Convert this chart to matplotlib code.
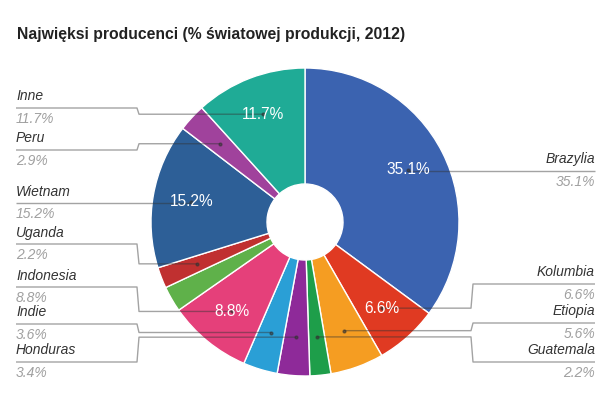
import numpy as np
import matplotlib.pyplot as plt

plt.rcParams['font.family'] = ['Liberation Sans', 'DejaVu Sans']

# data, clockwise from 12 o'clock
countries = ['Brazylia', 'Kolumbia', 'Etiopia', 'Guatemala', 'Honduras', 'Indie',
             'Indonesia', '', 'Uganda', 'Wietnam', 'Peru', 'Inne']
shares = [35.1, 6.6, 5.6, 2.2, 3.4, 3.6, 8.8, 2.7, 2.2, 15.2, 2.9, 11.7]
colors = ['#3b63b0', '#e03a22', '#f59d22', '#1e9e4a', '#8e2a99', '#2a9fd6',
          '#e5407a', '#5fb14a', '#c03030', '#2d5f97', '#a0429c', '#1fab96']
inside_min = 6.0  # slices above this get a % label inside

# legend layout (pixel rows of the leader lines, side of the chart)
label_rows = {'Brazylia': (171, 'R'), 'Kolumbia': (284, 'R'), 'Etiopia': (323, 'R'),
              'Guatemala': (362, 'R'), 'Inne': (108, 'L'), 'Peru': (150, 'L'),
              'Wietnam': (203, 'L'), 'Uganda': (244, 'L'), 'Indonesia': (287, 'L'),
              'Indie': (324, 'L'), 'Honduras': (362, 'L')}

W, H = 600, 395
cx, cy = 305, H - 222
R = 154
hole = 38

fig = plt.figure(figsize=(6, 3.95), dpi=100)
ax = fig.add_axes([0, 0, 1, 1])

ax.pie(shares, colors=colors, startangle=90, counterclock=False,
       center=(cx, cy), radius=R,
       wedgeprops=dict(width=R - hole, edgecolor='white', linewidth=1))
# pie resets the limits, so set them afterwards
ax.set_xlim(0, W)
ax.set_ylim(0, H)
ax.set_aspect('equal')
ax.axis('off')

total = sum(shares)
cum = np.cumsum([0] + shares[:-1])
mid_frac = (cum + np.array(shares) / 2) / total
theta = np.deg2rad(90 - mid_frac * 360)
r_lab = 0.75 * R
px = cx + r_lab * np.cos(theta)
py = cy + r_lab * np.sin(theta)

fig.text(17 / W, 1 - 35 / H, 'Najwięksi producenci (% światowej produkcji, 2012)',
         fontsize=11.3, fontweight='bold', color='#222222', va='center', ha='left')

line_kw = dict(color='#333333', alpha=0.45, lw=1, solid_capstyle='butt')
for i, name in enumerate(countries):
    pct = '{:.1f}%'.format(shares[i])
    if shares[i] >= inside_min:
        ax.text(px[i], py[i], pct, color='white', fontsize=11.2, ha='center', va='center',
                zorder=5)
    if name not in label_rows:
        continue
    row, side = label_rows[name]
    ly = H - row
    if side == 'L':
        xs = [16, 137, 139, px[i]]
        tx, ha = 16, 'left'
    else:
        xs = [595, 473, 471, px[i]]
        tx, ha = 595, 'right'
    ys = [ly, ly, py[i], py[i]]
    if abs(ly - py[i]) < 2:
        xs, ys = [xs[0], px[i]], [ly, ly]
    ax.plot(xs, ys, zorder=4, **line_kw)
    ax.plot(px[i], py[i], 'o', ms=2, color='#333333', alpha=0.6, zorder=4)
    ax.text(tx, ly + 11.5, name, fontsize=10, style='italic', color='#333333',
            ha=ha, va='center')
    ax.text(tx, ly - 11, pct, fontsize=10, style='italic', color='#a0a0a0',
            ha=ha, va='center')

fig.savefig('out.png', dpi=100, facecolor='white')
